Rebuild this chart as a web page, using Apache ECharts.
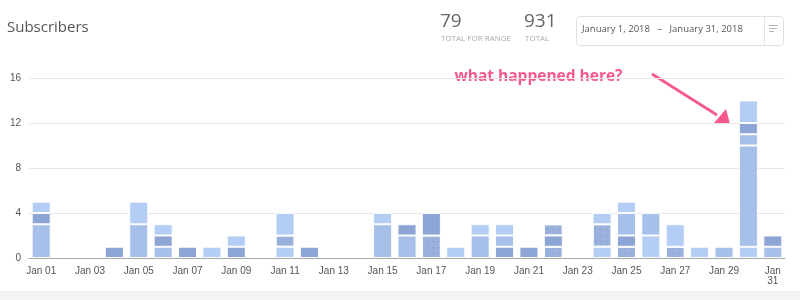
<!DOCTYPE html>
<html>
<head>
<meta charset="utf-8">
<script src="https://cdn.jsdelivr.net/npm/echarts@6/dist/echarts.min.js"></script>
<style>
  html, body { margin: 0; padding: 0; background: #fff; }
  #chart { width: 800px; height: 300px; }
</style>
</head>
<body>
<div id="chart"></div>
<script>
// days of January 2018
const days = [];
for (let d = 1; d <= 31; d++) days.push('Jan ' + String(d).padStart(2, '0'));

// stacked segments, bottom to top (one array per layer)
const lightLow  = [0,0,0,0,0,0,0,1,0,0,1,0,0,0,0,0,0,1,0,0,0,0,0,1,0,2,0,0,0,1,0];
const dottedLow = [0,0,0,0,0,0,0,0,0,0,1,0,0,0,0,0,2,0,0,0,0,1,0,2,1,0,1,0,0,0,0];
const darkLow   = [0,0,0,0,0,0,0,0,0,0,0,0,0,0,0,0,0,0,0,1,0,1,0,0,1,0,0,0,0,0,0];
const medium    = [3,0,0,0,3,1,0,0,0,0,0,0,0,0,3,2,0,0,2,1,0,0,0,0,2,2,0,0,1,9,1];
const mediumTop = [0,0,0,0,0,0,0,0,0,0,0,0,0,0,0,0,0,0,0,0,0,0,0,0,0,0,0,0,0,1,0];
const darkHigh  = [1,0,0,1,0,1,1,0,1,0,0,1,0,0,0,1,2,0,0,0,1,0,0,0,0,0,0,0,0,1,1];
const dottedTop = [0,0,0,0,0,0,0,0,0,0,0,0,0,0,0,0,0,0,0,0,0,1,0,0,0,0,0,0,0,0,0];
const lightTop  = [1,0,0,0,2,1,0,0,1,0,2,0,0,0,1,0,0,0,1,1,0,0,0,1,1,0,2,1,0,2,0];

const yTicks = [0, 4, 8, 12, 16];

const cLight = '#b3cdf5', cMedium = '#a7c0ea', cDark = '#8ca5d5', cDotted = '#9ab1dd';
const dots = {
    symbol: 'circle', symbolSize: 0.35,
    dashArrayX: 3, dashArrayY: 3,
    color: 'rgba(80,105,160,0.45)'
};

function layer(name, data, color, decal){
    const s = {
        name, type: 'bar', stack: 'total',
        data: data.map(v => v === 0 ? '-' : v), // no empty segment for zero
        barWidth: 19,
        itemStyle: { color, borderColor: 'rgba(255,255,255,0.9)', borderWidth: 1 },
        emphasis: { disabled: true },
    };
    if (decal) s.itemStyle.decal = decal;
    return s;
}

const chart = echarts.init(document.getElementById('chart'));
chart.setOption({
    animation: false,
    grid: { left: 29, right: 15, top: 78, bottom: 42 },
    xAxis: {
        type: 'category',
        data: days,
        axisLine: { lineStyle: { color: '#a8a8a8' } },
        axisTick: { show: false },
        axisLabel: {
            interval: 1, margin: 8,
            fontFamily: 'Liberation Sans', fontSize: 10, color: '#555',
            formatter: (v, i) => i === days.length - 1 ? v.replace(' ', '\n') : v,
        },
    },
    yAxis: {
        type: 'value',
        min: yTicks[0], max: yTicks[yTicks.length - 1], interval: 4,
        axisLine: { show: false },
        axisTick: { show: false },
        axisLabel: { margin: 8, fontFamily: 'Liberation Sans', fontSize: 10, color: '#555' },
        splitLine: { lineStyle: { color: '#e6e6e6' } },
    },
    series: [
        layer('lightLow', lightLow, cLight),
        layer('dottedLow', dottedLow, cDotted, dots),
        layer('darkLow', darkLow, cDark),
        layer('medium', medium, cMedium),
        layer('mediumTop', mediumTop, cMedium),
        layer('darkHigh', darkHigh, cDark),
        layer('dottedTop', dottedTop, cDotted, dots),
        layer('lightTop', lightTop, cLight),
    ],
    graphic: [
        { type: 'text', left: 7, top: 20,
          style: { text: 'Subscribers', fontFamily: 'Open Sans', fontSize: 15, fill: '#555' } },
        { type: 'text', left: 440, top: 12,
          style: { text: '79', fontFamily: 'Open Sans', fontSize: 19, fill: '#666' } },
        { type: 'text', left: 441, top: 35,
          style: { text: 'TOTAL FOR RANGE', fontFamily: 'Open Sans', fontSize: 8, fill: '#aaa' } },
        { type: 'text', left: 524, top: 12,
          style: { text: '931', fontFamily: 'Open Sans', fontSize: 19, fill: '#666' } },
        { type: 'text', left: 525, top: 35,
          style: { text: 'TOTAL', fontFamily: 'Open Sans', fontSize: 8, fill: '#aaa' } },
        { type: 'rect', shape: { x: 576.5, y: 16.5, width: 207, height: 29, r: 3 },
          style: { fill: '#fff', stroke: '#dcdfe3', lineWidth: 1 } },
        { type: 'line', shape: { x1: 764.5, y1: 17, x2: 764.5, y2: 45 },
          style: { stroke: '#e3e5e8', lineWidth: 1 } },
        { type: 'line', shape: { x1: 769, y1: 25.5, x2: 778, y2: 25.5 }, style: { stroke: '#b5b5b5', lineWidth: 1 } },
        { type: 'line', shape: { x1: 769, y1: 28.5, x2: 777, y2: 28.5 }, style: { stroke: '#b5b5b5', lineWidth: 1 } },
        { type: 'line', shape: { x1: 769, y1: 31.5, x2: 774, y2: 31.5 }, style: { stroke: '#b5b5b5', lineWidth: 1 } },
        { type: 'text', left: 582, top: 24,
          style: { text: 'January 1, 2018   –   January 31, 2018', fontFamily: 'Open Sans', fontSize: 9.5, fill: '#555' } },
        { type: 'text', left: 453, top: 67,
          style: { text: 'what happened here?', fontFamily: 'Open Sans', fontWeight: 'bold', fontSize: 15.5,
                   fill: '#f5588c', stroke: '#fff', lineWidth: 3,
                   shadowColor: 'rgba(0,0,0,0.15)', shadowBlur: 2, shadowOffsetY: 1 } },
        { type: 'line', shape: { x1: 652, y1: 74, x2: 717, y2: 115 },
          style: { stroke: '#f5588c', lineWidth: 2.7 } },
        { type: 'polygon', shape: { points: [[730, 124], [714, 123], [726, 109]] },
          style: { fill: '#f5588c' } },
        { type: 'rect', shape: { x: 0, y: 291, width: 800, height: 9 },
          style: { fill: '#f3f4f6' } },
    ],
});
</script>
</body>
</html>
